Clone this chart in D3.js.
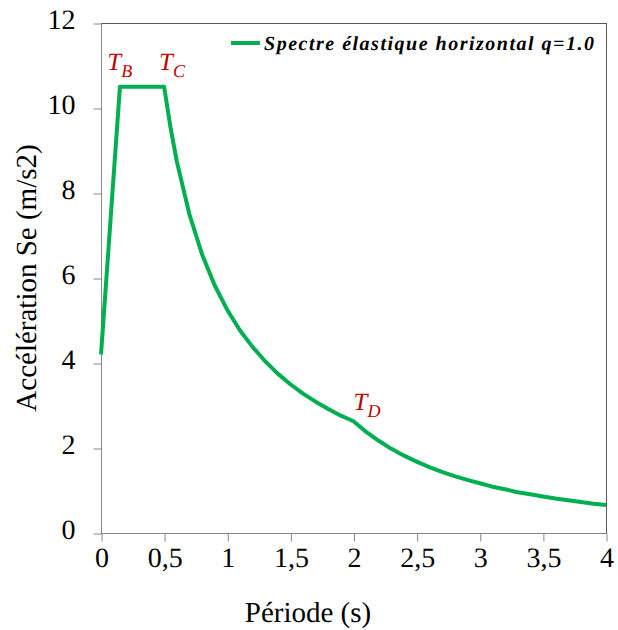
<!DOCTYPE html>
<html><head><meta charset="utf-8">
<script src="https://cdn.jsdelivr.net/npm/d3@7"></script>
<style>
body{margin:0;background:#fff}
svg{display:block;font-family:"Liberation Serif","Times New Roman",serif;text-rendering:geometricPrecision}
svg text, svg tspan{font-family:"Liberation Serif","Times New Roman",serif}
</style>
</head><body>
<svg id="c" width="618" height="630"></svg>
<script>
const periods = [0,0.15,0.5,0.55,0.6,0.7,0.8,0.9,1.0,1.1,1.2,1.3,1.4,1.5,1.6,1.7,1.8,1.9,2.0,2.1,2.2,2.3,2.4,2.5,2.6,2.7,2.8,2.9,3.0,3.1,3.2,3.3,3.4,3.5,3.6,3.7,3.8,3.9,4.0];
const accel   = [4.2,10.5,10.5,9.55,8.75,7.5,6.56,5.83,5.25,4.77,4.38,4.04,3.75,3.5,3.28,3.09,2.92,2.76,2.63,2.38,2.17,1.98,1.82,1.68,1.55,1.44,1.34,1.25,1.17,1.09,1.03,0.96,0.91,0.86,0.81,0.77,0.73,0.69,0.66];
const xTicks = [0,0.5,1,1.5,2,2.5,3,3.5,4];
const xTickLabels = ["0","0,5","1","1,5","2","2,5","3","3,5","4"];
const yTicks = [0,2,4,6,8,10,12];
const seriesName = "Spectre élastique horizontal q=1.0";
const xTitle = "Période (s)";
const yTitle = "Accélération Se (m/s2)";
const markers = [{main:"T",sub:"B",t:0.05,v:10.9},{main:"T",sub:"C",t:0.46,v:10.9},{main:"T",sub:"D",t:2.0,v:2.9}];

const svg = d3.select("#c");
const L=101, R=606, T=23, B=533;
const x = d3.scaleLinear().domain([0,4]).range([L,R]);
const y = d3.scaleLinear().domain([0,12]).range([B,T]);

svg.append("rect").attr("x",L+0.5).attr("y",T+0.5).attr("width",R-L).attr("height",B-T)
  .attr("fill","none").attr("stroke","#595959").attr("stroke-width",1);

const ya = svg.append("g").attr("transform",`translate(${L+0.5},0.5)`)
  .call(d3.axisLeft(y).tickValues(yTicks).tickSize(8).tickPadding(18).tickFormat(d3.format("d")));
const xa = svg.append("g").attr("transform",`translate(0.5,${B+0.5})`)
  .call(d3.axisBottom(x).tickValues(xTicks).tickSize(8).tickPadding(14).tickFormat((d,i)=>xTickLabels[i]));
[ya,xa].forEach(g=>{
  g.attr("font-family",null).attr("font-size",null);
  g.selectAll("path,line").attr("stroke","#868686").attr("stroke-width",1);
  g.selectAll("text").each(function(){
    const s = d3.select(this), txt = s.text();
    s.text(null).attr("fill","#000");
    s.append("tspan").style("font-size","28px").text(txt);
  });
});
ya.select(".domain").attr("d",`M0,${T}V${B}`);
xa.select(".domain").attr("d",`M${L},0H${R}`);

svg.append("text").attr("x",308).attr("y",622).attr("text-anchor","middle")
  .append("tspan").style("font-size","29px").text(xTitle);
svg.append("text").attr("transform","translate(36,278) rotate(-90)").attr("text-anchor","middle")
  .append("tspan").style("font-size","29px").text(yTitle);

const data = periods.map((p,i)=>({p,v:accel[i]}));
svg.append("path").datum(data)
  .attr("d",d3.line().x(d=>x(d.p)).y(d=>y(d.v)))
  .attr("fill","none").attr("stroke","#00b050").attr("stroke-width",4).attr("stroke-linejoin","round");

svg.append("line").attr("x1",231).attr("x2",260).attr("y1",43).attr("y2",43)
  .attr("stroke","#00b050").attr("stroke-width",4);
svg.append("text").attr("x",264).attr("y",50).attr("fill","#000")
  .append("tspan").style("font-style","italic").style("font-weight","bold").style("font-size","20px")
  .attr("textLength",330).attr("lengthAdjust","spacing").text(seriesName);

markers.forEach(m=>{
  const t = svg.append("text").attr("x",x(m.t)).attr("y",y(m.v)).attr("fill","#c00000");
  t.append("tspan").style("font-style","italic").style("font-size","25px").text(m.main);
  t.append("tspan").attr("dy",7).style("font-style","italic").style("font-size","18px").text(m.sub);
});
</script>
</body></html>
